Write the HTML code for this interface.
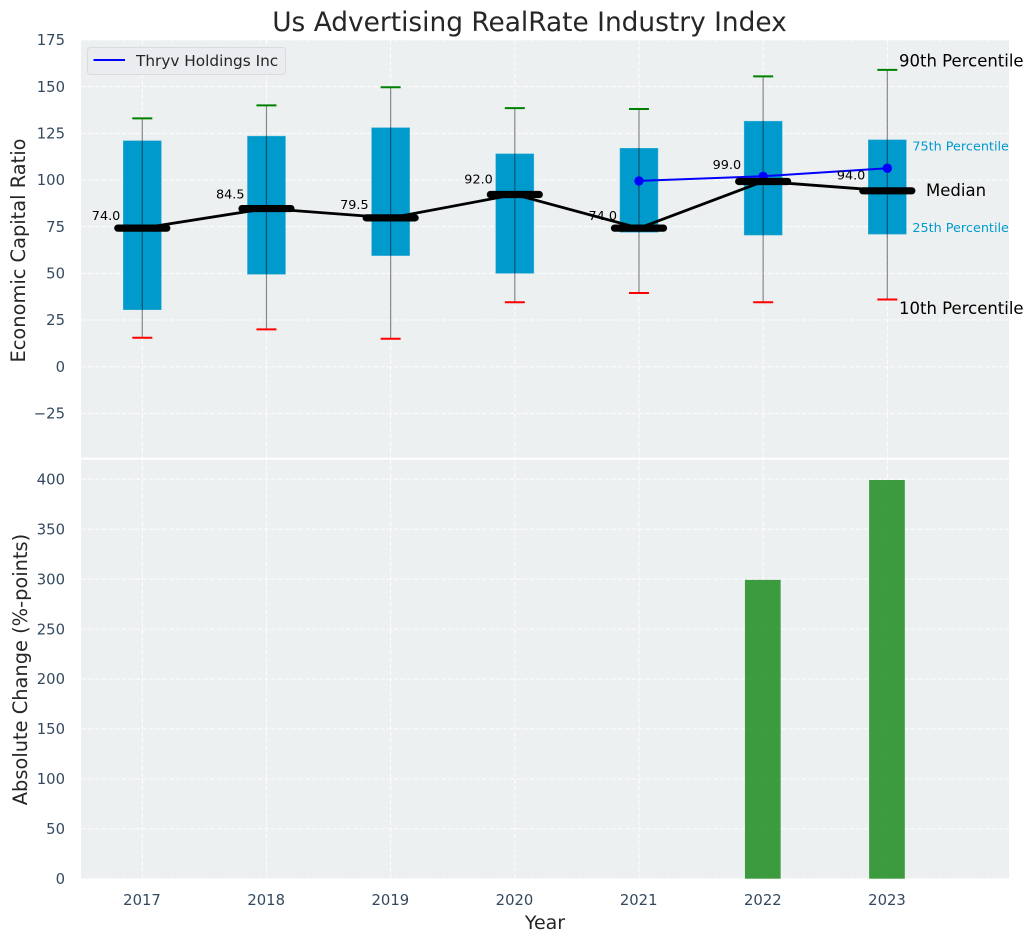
<!DOCTYPE html>
<html lang="en">
<head>
<meta charset="utf-8">
<title>Us Advertising RealRate Industry Index</title>
<style>
html,body{margin:0;padding:0;background:#fff;width:1034px;height:942px;overflow:hidden}
svg{display:block;font-family:"DejaVu Sans","Liberation Sans",sans-serif}
</style>
</head>
<body>
<svg id="chart" xmlns="http://www.w3.org/2000/svg" width="1034" height="942" viewBox="0 0 1034 942">
  <rect x="81" y="40" width="928" height="417.7" fill="#ecf0f1"/>
  <rect x="81" y="459.7" width="928" height="419" fill="#ecf0f1"/>
  <g id="grid"></g>
  <g id="bars"></g>
  <g id="boxes"></g>
  <g id="company"></g>
  <g id="medians"></g>
  <g id="ticks"></g>
  <g id="notes"></g>
  <text x="529.5" y="31" text-anchor="middle" font-size="26.4" fill="#262626">Us Advertising RealRate Industry Index</text>
  <text transform="translate(25 250.5) rotate(-90)" text-anchor="middle" font-size="19.4" fill="#262626">Economic Capital Ratio</text>
  <text transform="translate(26.8 669.5) rotate(-90)" text-anchor="middle" font-size="19.4" fill="#262626">Absolute Change (%-points)</text>
  <text x="545" y="929" text-anchor="middle" font-size="19" fill="#262626">Year</text>
  <g>
    <rect x="87.5" y="47.5" width="198" height="27" rx="3" fill="#eaecf0" stroke="#d8dbdf" stroke-width="1"/>
    <line x1="93.5" x2="125" y1="60" y2="60" stroke="#0000ff" stroke-width="2"/>
    <text x="136" y="66" font-size="15.3" fill="#262626">Thryv Holdings Inc</text>
  </g>
</svg>
<script>
var years = [2017, 2018, 2019, 2020, 2021, 2022, 2023];
var p90 = [133, 140, 149.7, 138.5, 138, 155.5, 159];
var p75 = [121, 123.5, 128, 114, 117, 131.5, 121.5];
var medianValues = [74, 84.5, 79.5, 92, 74, 99, 94];
var p25 = [30.5, 49.5, 59.5, 50, 72, 70.5, 71];
var p10 = [15.5, 20, 15, 34.5, 39.5, 34.5, 36];
var companyYears = [2021, 2022, 2023];
var companyValues = [99.5, 102, 106.3];
var changeValues = [0, 0, 0, 0, 0, 300, 400];
var topTicks = [175, 150, 125, 100, 75, 50, 25, 0, -25];
var bottomTicks = [400, 350, 300, 250, 200, 150, 100, 50, 0];

var NS = 'http://www.w3.org/2000/svg';
function X(year) { return 142.3 + (year - 2017) * 124.17; }
function YT(v) { return 366.7 - 1.867 * v; }
function YB(v) { return 878.7 - 0.9985 * v; }
function make(parent, tag, attrs, text) {
  var node = document.createElementNS(NS, tag);
  for (var k in attrs) node.setAttribute(k, attrs[k]);
  if (text !== undefined) node.textContent = text;
  document.getElementById(parent).appendChild(node);
  return node;
}
var GRID = {stroke: '#ffffff', 'stroke-width': 1, 'stroke-dasharray': '4.6 2.2', 'stroke-opacity': 0.9};
function gridLine(parent, x1, x2, y1, y2) {
  var a = {x1: x1, x2: x2, y1: y1, y2: y2};
  for (var k in GRID) a[k] = GRID[k];
  return make(parent, 'line', a);
}

topTicks.forEach(function (t) {
  var g = gridLine('grid', 81, 1009, YT(t), YT(t));
  
  
  var l = make('ticks', 'text', {x: 65, y: YT(t) + 5.2, 'text-anchor': 'end', 'font-size': 14.8, fill: '#34495e'}, String(t).replace('-', '\u2212'));
  
  
});
bottomTicks.forEach(function (t) {
  var g = gridLine('grid', 81, 1009, YB(t), YB(t));
  
  
  var l = make('ticks', 'text', {x: 65, y: YB(t) + 5.2, 'text-anchor': 'end', 'font-size': 14.8, fill: '#34495e'}, String(t));
  
  
});

years.forEach(function (yr, i) {
  var gt = gridLine('grid', X(yr), X(yr), 40, 457.7);
  
  
  var gb = gridLine('grid', X(yr), X(yr), 459.7, 878.7);
  
  

  var xl = make('ticks', 'text', {x: X(yr) - 0.3, y: 905, 'text-anchor': 'middle', 'font-size': 14.8, fill: '#34495e'}, String(yr));
  
  

  var top = YB(changeValues[i]) + 0.7;
  var h = Math.max(0, YB(0) - top);
  var bar = make('bars', 'rect', {x: X(yr) - 18.2, y: top, width: 35.7, height: h, fill: '#2f9532', 'fill-opacity': 0.93});
  
  

  var box = make('boxes', 'rect', {x: X(yr) - 19, y: YT(p75[i]), width: 38, height: YT(p25[i]) - YT(p75[i]), fill: '#009acd', stroke: '#3fb0d8', 'stroke-width': 0.5});
  
  

  var wh = make('boxes', 'line', {x1: X(yr), x2: X(yr), y1: YT(p90[i]), y2: YT(p10[i]), stroke: '#000000', 'stroke-opacity': 0.45, 'stroke-width': 1.2});
  
  

  var capHi = make('boxes', 'line', {x1: X(yr) - 10, x2: X(yr) + 10, y1: YT(p90[i]), y2: YT(p90[i]), stroke: '#008000', 'stroke-width': 2});
  
  

  var capLo = make('boxes', 'line', {x1: X(yr) - 10, x2: X(yr) + 10, y1: YT(p10[i]), y2: YT(p10[i]), stroke: '#ff0000', 'stroke-width': 2});
  
  

  var med = make('medians', 'line', {x1: X(yr) - 24.5, x2: X(yr) + 24.5, y1: YT(medianValues[i]) - 0.4, y2: YT(medianValues[i]) - 0.4, stroke: '#000000', 'stroke-width': 7.2, 'stroke-linecap': 'round'});
  
  

  var val = make('medians', 'text', {x: X(yr) - 22, y: YT(medianValues[i] * 1.09) + 4, 'text-anchor': 'end', 'font-size': 12.8, fill: '#000000'}, medianValues[i].toFixed(1));
  
  
});

var medPath = make('medians', 'polyline', {
  points: years.map(function (yr, i) { return X(yr) + ',' + (YT(medianValues[i]) - 0.4); }).join(' '),
  fill: 'none', stroke: '#000000', 'stroke-width': 2.8
});



var compLine = make('company', 'polyline', {
  points: companyYears.map(function (yr, i) { return X(yr) + ',' + YT(companyValues[i]); }).join(' '),
  fill: 'none', stroke: '#0000ff', 'stroke-width': 2
});


companyYears.forEach(function (yr, i) {
  var dot = make('company', 'circle', {cx: X(yr), cy: YT(companyValues[i]), r: 4.7, fill: '#0000ff'});
  
  
});

var last = years.length - 1;
var lx = X(years[last]);
var n1 = make('notes', 'text', {x: lx + 11.7, y: YT(p90[last]) - 3.5, 'font-size': 16.5, fill: '#000000'}, '90th Percentile');


var n2 = make('notes', 'text', {x: lx + 25, y: YT(p75[last]) + 10.5, 'font-size': 12.8, fill: '#009acd'}, '75th Percentile');


var n3 = make('notes', 'text', {x: lx + 38.7, y: YT(medianValues[last]) + 5, 'font-size': 16.5, fill: '#000000'}, 'Median');


var n4 = make('notes', 'text', {x: lx + 25, y: YT(p25[last]) - 2, 'font-size': 12.8, fill: '#009acd'}, '25th Percentile');


var n5 = make('notes', 'text', {x: lx + 11.7, y: YT(p10[last]) + 14.5, 'font-size': 16.5, fill: '#000000'}, '10th Percentile');


</script>
</body>
</html>
